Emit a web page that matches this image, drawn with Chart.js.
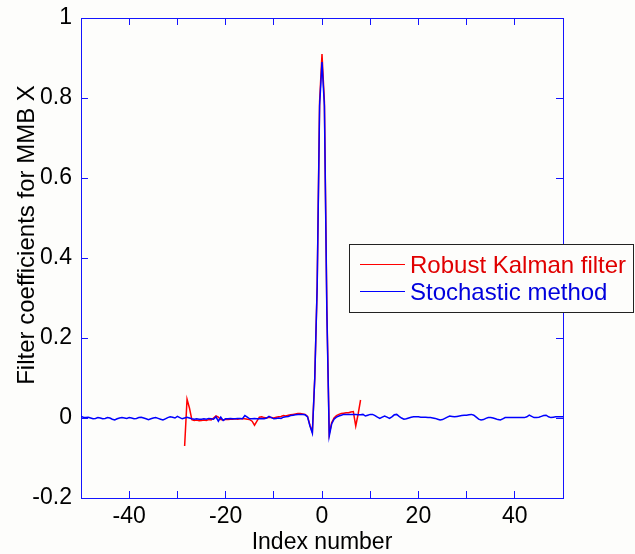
<!DOCTYPE html>
<html>
<head>
<meta charset="utf-8">
<script src="https://cdn.jsdelivr.net/npm/chart.js@4.4.0/dist/chart.umd.min.js"></script>
<style>
  html, body { margin: 0; padding: 0; background: #fdfdfb; }
  canvas { background: #fdfdfb; }
</style>
</head>
<body>
<canvas id="myChart" width="635" height="554"></canvas>
<script>
// index grid: both series are sampled every 0.5
const step = 0.5;
const blueStart = -50;
const redStart = -28.5;

// Stochastic method, index -50 .. 50
const blueValues = [
  0.004, 0.002, 0.001, 0.002, 0.000, -0.002, -0.001, 0.001, 0.000, -0.002,
  -0.001, 0.001, 0.000, -0.003, -0.005, -0.002, 0.000, 0.001, 0.000, -0.001,
  0.001, 0.000, -0.002, -0.001, 0.001, 0.002, 0.000, -0.002, -0.004, -0.002,
  0.000, 0.001, -0.001, -0.003, -0.005, -0.002, 0.001, 0.003, 0.002, 0.000,
  0.004, 0.001, -0.002, 0.000, 0.002, 0.000, -0.002, -0.003, -0.002, -0.003,
  -0.003, -0.002, -0.003, -0.001, -0.002, -0.003, 0.003, -0.008, 0.002, -0.006,
  -0.002, -0.002, -0.001, -0.002, -0.002, -0.001, -0.001, -0.002, 0.006, 0.002,
  -0.002, -0.002, -0.001, -0.002, -0.002, -0.001, -0.002, 0.000, 0.004, 0.001,
  -0.002, -0.001, 0.000, -0.001, 0.002, 0.003, 0.004, 0.006, 0.007, 0.008,
  0.009, 0.009, 0.009, 0.008,
  // peak -3 .. 3.5
  0.003, -0.020, -0.038, 0.100, 0.330, 0.780, 0.890, 0.780, 0.270, -0.045,
  -0.015, -0.003, 0.002, 0.005,
  // 4 .. 50
  0.007, 0.009, 0.009, 0.009, 0.009, 0.009, 0.009, 0.008, 0.008, 0.009,
  0.005, 0.007, 0.009, 0.009, 0.006, 0.002, -0.001, 0.002, 0.005, 0.002,
  -0.001, 0.003, 0.008, 0.009, 0.004, 0.000, -0.003, -0.002, 0.000, 0.002,
  0.003, 0.003, 0.003, 0.002, 0.002, 0.002, 0.001, 0.001, 0.000, -0.001,
  -0.003, -0.005, -0.004, -0.001, 0.002, 0.005, 0.004, 0.003, 0.004, 0.005,
  0.006, 0.007, 0.007, 0.008, 0.009, 0.007, 0.002, -0.003, -0.005, -0.004,
  -0.001, 0.001, 0.001, 0.000, -0.002, -0.004, -0.005, -0.002, 0.001, 0.001,
  0.001, 0.001, 0.001, 0.001, 0.001, 0.001, 0.001, 0.003, 0.007, 0.004,
  0.001, 0.001, 0.002, 0.004, 0.006, 0.007, 0.003, 0.001, 0.002, 0.003,
  0.003, 0.003, 0.003
];

// Robust Kalman filter, index -28.5 .. 8
const redValues = [
  -0.070, 0.047, 0.025, -0.004, -0.006, -0.005, -0.007, -0.006, -0.005, -0.006,
  -0.004, -0.005, 0.000, 0.005, 0.002, -0.004, -0.005, -0.003, -0.004, -0.003,
  -0.003, -0.002, -0.003, -0.002, -0.002, -0.002, -0.003, -0.004, -0.008, -0.018,
  -0.008, 0.002, 0.003, 0.001, 0.000, 0.002, 0.001, 0.000, 0.002, 0.003,
  0.004, 0.006, 0.005, 0.007, 0.008, 0.009, 0.010, 0.011, 0.011, 0.010,
  0.009, 0.004, -0.018, -0.035, 0.100, 0.330, 0.790, 0.910, 0.790, 0.280,
  -0.040, -0.012, 0.000, 0.006, 0.009, 0.011, 0.012, 0.013, 0.013, 0.015,
  0.016, -0.020, 0.010, 0.045
];

const xMin = -50, xMax = 50, xStep = 10, xLabelEvery = 20;
const yMin = -0.2, yMax = 1, yStep = 0.2;

const seriesNames = ['Robust Kalman filter', 'Stochastic method'];
const xTitle = 'Index number';
const yTitle = 'Filter coefficients for MMB X';

const axisColor = 'rgb(20, 20, 255)';
const FONT = 'Arial, "Liberation Sans", sans-serif';
const TICK = -7; // negative = tick marks point into the plot, like matlab

function toPoints(start, values) {
  return values.map((v, i) => ({ x: start + i * step, y: v }));
}

// axis lines + inward tick marks, shared by all four sides
function boxAxis(extra) {
  return Object.assign({
    grid: { display: true, drawOnChartArea: false, drawTicks: true, tickLength: TICK, color: axisColor, lineWidth: 1 },
    border: { display: true, color: axisColor, width: 1 },
  }, extra);
}

// fixed axis sizes, no label overflow padding (plot box is set by layout.padding)
function fitX(h) {
  return (s) => { s.height = h; s.paddingLeft = 0; s.paddingRight = 0; };
}
function fitY(w) {
  return (s) => { s.width = w; s.paddingTop = 0; s.paddingBottom = 0; };
}

// y title and legend box
const matlabExtras = {
  id: 'matlabExtras',
  afterDraw(chart) {
    const c = chart.ctx;
    c.save();
    c.fillStyle = '#000';
    c.font = '24px ' + FONT;
    c.textAlign = 'center';
    c.textBaseline = 'middle';
    c.translate(27, 235);
    c.rotate(-Math.PI / 2);
    c.fillText(yTitle, 0, 0);
    c.restore();

    c.save();
    const lx = 349, ly = 244, lw = 284, lh = 68;
    c.fillStyle = '#fdfdfb';
    c.fillRect(lx, ly, lw, lh);
    c.fillStyle = '#222';
    c.fillRect(lx, ly, lw, 1);
    c.fillRect(lx, ly + lh, lw + 1, 1);
    c.fillRect(lx, ly, 1, lh);
    c.fillRect(lx + lw, ly, 1, lh);
    const items = [
      { ds: chart.data.datasets[1], y: 264, text: '#e00000' },
      { ds: chart.data.datasets[0], y: 291, text: '#0000dd' }
    ];
    c.font = '24px ' + FONT;
    c.textAlign = 'left';
    c.textBaseline = 'alphabetic';
    items.forEach(it => {
      c.fillStyle = it.ds.borderColor;
      c.fillRect(360, it.y, 45, 1);
      c.fillStyle = it.text;
      c.fillText(it.ds.label, 410, it.y + 9);
    });
    c.restore();
  }
};

const myChart = new Chart(document.getElementById('myChart').getContext('2d'), {
  type: 'scatter',
  data: {
    datasets: [
      {
        label: seriesNames[1],
        data: toPoints(blueStart, blueValues),
        showLine: true,
        borderColor: '#0000ff',
        borderWidth: 1.5,
        pointRadius: 0,
        order: 0,
      },
      {
        label: seriesNames[0],
        data: toPoints(redStart, redValues),
        showLine: true,
        borderColor: '#ff0000',
        borderWidth: 1.5,
        pointRadius: 0,
        order: 1,
      },
    ],
  },
  options: {
    responsive: false,
    animation: false,
    layout: { padding: { top: 18, right: 72, left: 0, bottom: 0 } },
    plugins: { legend: { display: false }, tooltip: { enabled: false } },
    scales: {
      x: boxAxis({
        type: 'linear',
        position: 'bottom',
        min: xMin,
        max: xMax,
        afterFit: fitX(56),
        ticks: {
          stepSize: xStep,
          autoSkip: false,
          maxRotation: 0,
          padding: 12,
          color: '#000',
          font: { family: FONT, size: 23 },
          callback: (v) => (v % xLabelEvery === 0 ? v : ''),
        },
        title: {
          display: true,
          text: xTitle,
          color: '#000',
          font: { family: FONT, size: 23, lineHeight: 1 },
          padding: { top: 0, bottom: 0 },
        },
      }),
      xTop: boxAxis({
        type: 'linear',
        position: 'top',
        min: xMin,
        max: xMax,
        afterFit: fitX(0),
        ticks: { stepSize: xStep, autoSkip: false, display: false },
      }),
      y: boxAxis({
        type: 'linear',
        position: 'left',
        min: yMin,
        max: yMax,
        afterFit: fitY(81),
        ticks: {
          stepSize: yStep,
          padding: 16,
          color: '#000',
          font: { family: FONT, size: 23 },
          callback: (v) => String(Number(v.toFixed(1))),
        },
      }),
      yRight: boxAxis({
        type: 'linear',
        position: 'right',
        min: yMin,
        max: yMax,
        afterFit: fitY(0),
        ticks: { stepSize: yStep, display: false },
      }),
    },
  },
  plugins: [matlabExtras],
});
</script>
</body>
</html>
